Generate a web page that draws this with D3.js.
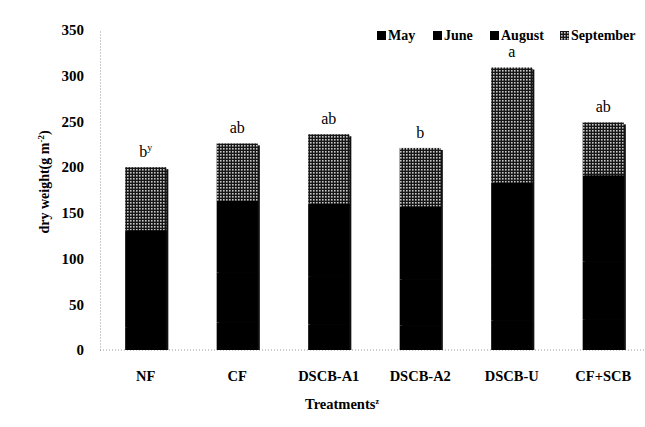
<!DOCTYPE html>
<html>
<head>
<meta charset="utf-8">
<script src="https://cdn.jsdelivr.net/npm/d3@7/dist/d3.min.js"></script>
<style>
  html, body { margin: 0; padding: 0; background: #fff; }
  svg { display: block; }
  text { font-family: "Liberation Serif", "Times New Roman", serif; }
</style>
</head>
<body>
<svg id="chart" width="645" height="427"></svg>
<script>
// Treatments on the x axis
const treatments = ["NF", "CF", "DSCB-A1", "DSCB-A2", "DSCB-U", "CF+SCB"];
// Dry weight (g m-2) for each harvest month, stacked bottom to top
const may       = [25, 30, 28, 27, 32, 33];
const june      = [45, 55, 52, 50, 61, 64];
const august    = [61, 78, 80, 80, 90, 94];
const september = [69, 63, 76, 64, 126, 58];
// Significance letters above each bar
const letters   = ["b", "ab", "ab", "b", "a", "ab"];
const months    = ["May", "June", "August", "September"];
const yTicks    = [0, 50, 100, 150, 200, 250, 300, 350];

const svg = d3.select("#chart");

const rows = treatments.map((t, i) => ({
  treatment: t, May: may[i], June: june[i], August: august[i], September: september[i]
}));
const stacked = d3.stack().keys(months)(rows);

const x = d3.scaleBand().domain(treatments).range([100, 649])
  .paddingInner(0.55).paddingOuter(0.275);
const y = d3.scaleLinear().domain([0, 350]).range([350, 30]);

// hatched fill for September
const defs = svg.append("defs");
const pat = defs.append("pattern").attr("id", "sept")
  .attr("patternUnits", "userSpaceOnUse").attr("width", 3).attr("height", 3);
pat.append("rect").attr("width", 3).attr("height", 3).attr("fill", "#161616");
pat.append("rect").attr("x", 1).attr("y", 1).attr("width", 1.6).attr("height", 1.6).attr("fill", "#c8c8c8");

const fills = { May: "#000", June: "#000", August: "#000", September: "url(#sept)" };

// y axis
const yAxis = svg.append("g").attr("transform", "translate(100,0)")
  .call(d3.axisLeft(y).tickValues(yTicks).tickSize(0).tickPadding(16));
yAxis.select(".domain").attr("stroke", "#999").attr("stroke-dasharray", "1,2");
yAxis.selectAll("text").attr("font-size", 15).attr("font-weight", "bold").attr("fill", "#000")
  .attr("font-family", "Liberation Serif, serif");

// x axis
const xAxis = svg.append("g").attr("transform", "translate(0,350)")
  .call(d3.axisBottom(x).tickSize(0).tickPadding(21));
xAxis.select(".domain").attr("stroke", "#999").attr("stroke-dasharray", "1,2")
  .attr("d", "M100,0H645");
xAxis.selectAll("text").attr("font-size", 14.5).attr("font-weight", "bold").attr("fill", "#000")
  .attr("font-family", "Liberation Serif, serif");

// bar shadows
const totals = rows.map(r => months.reduce((s, k) => s + r[k], 0));
svg.append("g").selectAll("rect").data(rows).join("rect")
  .attr("x", (d) => x(d.treatment) + 2)
  .attr("y", (d, i) => y(totals[i]) + 2)
  .attr("width", x.bandwidth())
  .attr("height", (d, i) => y(0) - y(totals[i]) - 2)
  .attr("fill", "#111");

// stacked bars
svg.append("g").selectAll("g").data(stacked).join("g")
  .attr("fill", d => fills[d.key])
  .selectAll("rect").data(d => d).join("rect")
  .attr("x", d => x(d.data.treatment))
  .attr("y", d => y(d[1]))
  .attr("width", x.bandwidth())
  .attr("height", d => y(d[0]) - y(d[1]));

// significance letters
const lab = svg.append("g").selectAll("text").data(rows).join("text")
  .attr("x", d => x(d.treatment) + x.bandwidth() / 2)
  .attr("y", (d, i) => y(totals[i]) - 10)
  .attr("text-anchor", "middle")
  .attr("font-size", 16)
  .attr("fill", "#000")
  .text((d, i) => letters[i]);
lab.filter((d, i) => i === 0).append("tspan")
  .attr("dy", -6).attr("font-size", 10).text("y");

// legend
const legendX = [377, 433, 490, 560];
const leg = svg.append("g").selectAll("g").data(months).join("g")
  .attr("transform", (d, i) => `translate(${legendX[i]},31)`);
leg.append("rect").attr("width", 9).attr("height", 9).attr("fill", d => fills[d]);
leg.append("text").attr("x", 11).attr("y", 9)
  .attr("font-size", 14).attr("font-weight", "bold").attr("fill", "#000")
  .text(d => d);

// axis titles
const yt = svg.append("text")
  .attr("transform", "translate(49,182) rotate(-90)")
  .attr("text-anchor", "middle")
  .attr("font-size", 14).attr("font-weight", "bold").attr("fill", "#000");
yt.append("tspan").text("dry weight(g m");
yt.append("tspan").attr("dy", -5).attr("font-size", 9).text("-2");
yt.append("tspan").attr("dy", 5).text(")");

const xt = svg.append("text")
  .attr("x", 342).attr("y", 409)
  .attr("text-anchor", "middle")
  .attr("font-size", 14.5).attr("font-weight", "bold").attr("fill", "#000");
xt.append("tspan").text("Treatments");
xt.append("tspan").attr("dy", -5).attr("font-size", 8).text("z");
</script>
</body>
</html>
